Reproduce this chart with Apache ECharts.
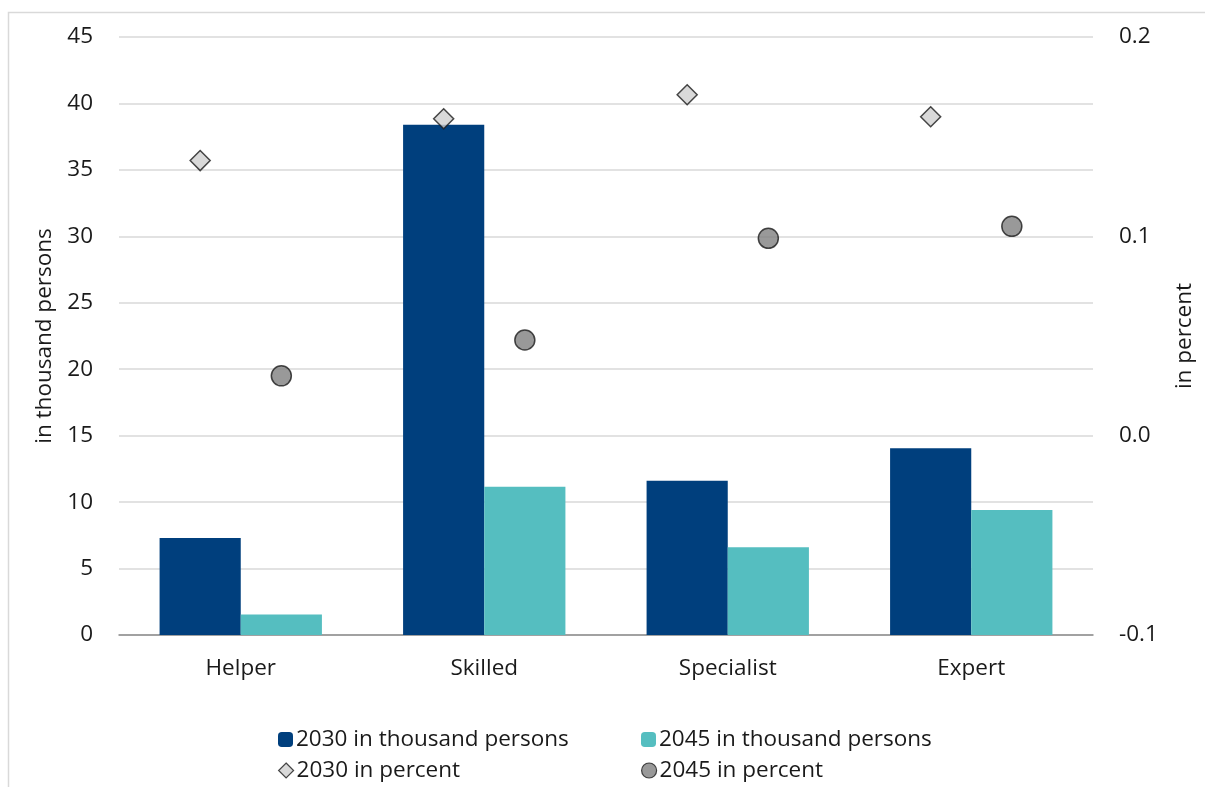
<!DOCTYPE html>
<html>
<head>
<meta charset="utf-8">
<title>Labour demand by qualification level</title>
<script src="https://cdn.jsdelivr.net/npm/echarts@6/dist/echarts.min.js"></script>
<style>
  html, body { margin: 0; padding: 0; background: #ffffff; }
  #chart { width: 1205px; height: 787px; }
</style>
</head>
<body>
<div id="chart"></div>
<script>
// Qualification levels on the x axis
const categories = ['Helper', 'Skilled', 'Specialist', 'Expert'];

// Absolute values, in thousand persons (left axis)
const persons2030 = [7.3, 38.4, 11.6, 14.05];
const persons2045 = [1.55, 11.15, 6.6, 9.4];

// Relative values, in percent (right axis)
const percent2030 = [0.138, 0.159, 0.171, 0.160];
const percent2045 = [0.030, 0.048, 0.099, 0.105];

// Axis ticks
const leftTicks = [0, 5, 10, 15, 20, 25, 30, 35, 40, 45];
const rightTicks = [-0.1, 0.0, 0.1, 0.2];

const seriesNames = [
  '2030 in thousand persons',
  '2045 in thousand persons',
  '2030 in percent',
  '2045 in percent'
];

const FONT = '"Open Sans", "Noto Sans", sans-serif';
const FONT_SIZE = 22.5;
const TEXT = '#1a1a1a';
const BAR_SHARE = 1 / 3;          // each bar takes a third of its category band

// Markers sit above the centre of the matching bar:
// position = category centre -/+ half a bar width, on a 0..N value axis.
const markerX = (i, side) => i + 0.5 + side * BAR_SHARE / 2;
const pct2030Points = percent2030.map((v, i) => [markerX(i, -1), v]);
const pct2045Points = percent2045.map((v, i) => [markerX(i, 1), v]);

const chart = echarts.init(document.getElementById('chart'), null, { renderer: 'canvas' });

const legendBase = {
  orient: 'horizontal',
  itemGap: 0,
  itemWidth: 15,
  itemHeight: 15,
  textStyle: { fontFamily: FONT, fontSize: FONT_SIZE, color: TEXT, padding: [0, 0, 0, -2] },
  selectedMode: false
};

chart.setOption({
  backgroundColor: '#ffffff',
  animation: false,
  graphic: [{
    type: 'rect',
    shape: { x: 8.5, y: 12.5, width: 1300, height: 900 },
    style: { fill: 'none', stroke: '#d9d9d9', lineWidth: 1.5 },
    silent: true
  }],
  grid: { left: 119, right: 112, top: 37, bottom: 152, containLabel: false },
  legend: [
    Object.assign({}, legendBase, { left: 273, top: 723, data: [seriesNames[0]] }),
    Object.assign({}, legendBase, { left: 636, top: 723, data: [seriesNames[1]] }),
    Object.assign({}, legendBase, { left: 273, top: 754, data: [{ name: seriesNames[2], icon: 'diamond', itemStyle: { borderWidth: 1.2 } }] }),
    Object.assign({}, legendBase, { left: 636, top: 754, data: [{ name: seriesNames[3], icon: 'circle', itemStyle: { borderWidth: 1.2 } }] })
  ],
  xAxis: [
    {
      type: 'category',
      data: categories,
      axisLine: { show: true, lineStyle: { color: '#8c8c8c', width: 1.5 } },
      axisTick: { show: false },
      axisLabel: { fontFamily: FONT, fontSize: FONT_SIZE, color: TEXT, margin: 22 },
      splitLine: { show: false }
    },
    {
      type: 'value',
      min: 0,
      max: categories.length,
      show: false,
      splitLine: { show: false }
    }
  ],
  yAxis: [
    {
      type: 'value',
      min: leftTicks[0],
      max: leftTicks[leftTicks.length - 1],
      interval: 5,
      position: 'left',
      name: 'in thousand persons',
      nameLocation: 'middle',
      nameGap: 62,
      nameTextStyle: { fontFamily: FONT, fontSize: FONT_SIZE, color: TEXT },
      axisLine: { show: false },
      axisTick: { show: false },
      axisLabel: { fontFamily: FONT, fontSize: FONT_SIZE, color: TEXT, margin: 26 },
      splitLine: { show: true, lineStyle: { color: '#d9d9d9', width: 1.5 } }
    },
    {
      type: 'value',
      min: rightTicks[0],
      max: rightTicks[rightTicks.length - 1],
      interval: 0.1,
      position: 'right',
      name: 'in percent',
      nameLocation: 'middle',
      nameGap: 80,
      nameRotate: 90,
      nameTextStyle: { fontFamily: FONT, fontSize: FONT_SIZE, color: TEXT },
      axisLine: { show: false },
      axisTick: { show: false },
      axisLabel: {
        fontFamily: FONT, fontSize: FONT_SIZE, color: TEXT, margin: 26,
        formatter: v => v.toFixed(1)
      },
      splitLine: { show: false }
    }
  ],
  series: [
    {
      name: seriesNames[0],
      type: 'bar',
      xAxisIndex: 0,
      yAxisIndex: 0,
      data: persons2030,
      barWidth: (BAR_SHARE * 100) + '%',
      barGap: '0%',
      itemStyle: { color: '#003f7d' }
    },
    {
      name: seriesNames[1],
      type: 'bar',
      xAxisIndex: 0,
      yAxisIndex: 0,
      data: persons2045,
      barWidth: (BAR_SHARE * 100) + '%',
      barGap: '0%',
      itemStyle: { color: '#55bec0' }
    },
    {
      name: seriesNames[2],
      type: 'scatter',
      xAxisIndex: 1,
      yAxisIndex: 1,
      data: pct2030Points,
      symbol: 'diamond',
      symbolSize: [20, 20],
      itemStyle: { color: '#d0d0d0', borderColor: '#1a1a1a', borderWidth: 1.5 },
      z: 5
    },
    {
      name: seriesNames[3],
      type: 'scatter',
      xAxisIndex: 1,
      yAxisIndex: 1,
      data: pct2045Points,
      symbol: 'circle',
      symbolSize: 20,
      itemStyle: { color: '#808080', borderColor: '#1a1a1a', borderWidth: 1.5 },
      z: 5
    }
  ]
});
</script>
</body>
</html>
